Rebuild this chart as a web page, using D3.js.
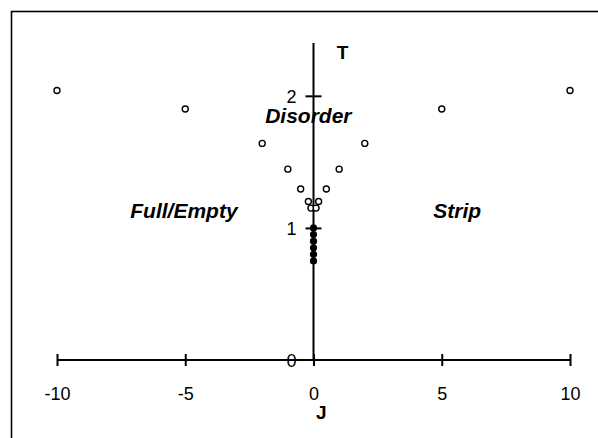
<!DOCTYPE html>
<head>
    <meta charset="utf-8">
    <style>
        body{
            margin:0;
            background:#fff;
        }
        svg{
            display:block;
        }
        .axis text{
            font-family: 'Liberation Sans', Arial, sans-serif;
            font-size: 18px;
            fill: #000;
        }
        .axis line, .axis path{
            stroke: #000;
            stroke-width: 2px;
        }
        .region{
            font-family: 'Liberation Sans', Arial, sans-serif;
            font-weight: bold;
            font-style: italic;
            font-size: 21px;
        }
        .title{
            font-family: 'Liberation Sans', Arial, sans-serif;
            font-weight: bold;
            font-size: 19px;
        }
    </style>
</head>
<body>
    <div id="chart"></div>
    <script src="https://d3js.org/d3.v7.min.js"></script>
    <script>
        // phase diagram points
        var openJ = [-10, -5, -2, -1, -0.5, -0.2, -0.1, 0.1, 0.2, 0.5, 1, 2, 5, 10];
        var openT = [2.04, 1.90, 1.64, 1.445, 1.295, 1.2, 1.15, 1.15, 1.2, 1.295, 1.445, 1.64, 1.90, 2.04];
        var filledJ = [0, 0, 0, 0, 0, 0];
        var filledT = [1.0, 0.95, 0.9, 0.85, 0.8, 0.75];

        var xTicks = [-10, -5, 0, 5, 10];
        var yTicks = [0, 1, 2];
        var regions = [
            {label: "Full/Empty", J: -5.05, T: 1.0},
            {label: "Strip", J: 5.6, T: 1.0},
            {label: "Disorder", J: -0.2, T: 1.72}
        ];

        var width = 598, height = 438;
        var fmt = function(d) { return String(d); };   // plain hyphen, no decimals

        var svg = d3.select("#chart").append("svg")
            .attr("width", width)
            .attr("height", height);

        // frame (only top & left show in the picture)
        svg.append("rect")
            .attr("x", 11.5).attr("y", 11.5)
            .attr("width", 700).attr("height", 600)
            .attr("fill", "none")
            .attr("stroke", "#000")
            .attr("stroke-width", 1.6);

        var x = d3.scaleLinear().domain([-10, 10]).range([57, 570]);
        var y = d3.scaleLinear().domain([0, 2.4]).range([360, 43]);

        // x axis
        var gx = svg.append("g")
            .attr("class", "axis")
            .attr("transform", "translate(0," + y(0) + ")")
            .call(d3.axisBottom(x).tickValues(xTicks).tickFormat(fmt).tickSize(6).tickSizeOuter(0));
        gx.select(".domain").remove();
        gx.append("line")
            .attr("x1", x(-10)).attr("x2", x(10));
        gx.selectAll(".tick line").attr("y1", -6).attr("y2", 6);
        gx.selectAll(".tick text").attr("y", 40).attr("dy", 0);

        // y axis through J = 0
        var gy = svg.append("g")
            .attr("class", "axis")
            .attr("transform", "translate(" + x(0) + ",0)")
            .call(d3.axisLeft(y).tickValues(yTicks).tickFormat(fmt).tickSize(8).tickSizeOuter(0));
        gy.select(".domain").remove();
        gy.append("line")
            .attr("y1", y(2.4)).attr("y2", y(0));
        gy.selectAll(".tick line").attr("x1", -8).attr("x2", 8);
        gy.selectAll(".tick line").filter(function(d) { return d === 0; }).remove();
        gy.selectAll(".tick text").attr("x", -17).attr("dy", "0.36em");

        // axis titles
        svg.append("text").attr("class", "title")
            .attr("x", x(1.13)).attr("y", y(2.28))
            .attr("text-anchor", "middle")
            .text("T");
        svg.append("text").attr("class", "title")
            .attr("x", x(0.3)).attr("y", y(-0.45))
            .attr("text-anchor", "middle")
            .text("J");

        // region labels
        svg.selectAll(".region")
            .data(regions)
            .enter().append("text")
            .attr("class", "region")
            .attr("x", function(d) { return x(d.J); })
            .attr("y", function(d) { return y(d.T) - 10; })
            .attr("text-anchor", "middle")
            .text(function(d) { return d.label; });

        // open circles
        svg.selectAll(".open")
            .data(openJ)
            .enter().append("circle")
            .attr("class", "open")
            .attr("cx", function(d) { return x(d); })
            .attr("cy", function(d, i) { return y(openT[i]); })
            .attr("r", 3)
            .attr("fill", "#fff")
            .attr("stroke", "#000")
            .attr("stroke-width", 1.4);

        // filled circles
        svg.selectAll(".filled")
            .data(filledJ)
            .enter().append("circle")
            .attr("class", "filled")
            .attr("cx", function(d) { return x(d); })
            .attr("cy", function(d, i) { return y(filledT[i]); })
            .attr("r", 3.6)
            .attr("fill", "#000");
    </script>
</body>
